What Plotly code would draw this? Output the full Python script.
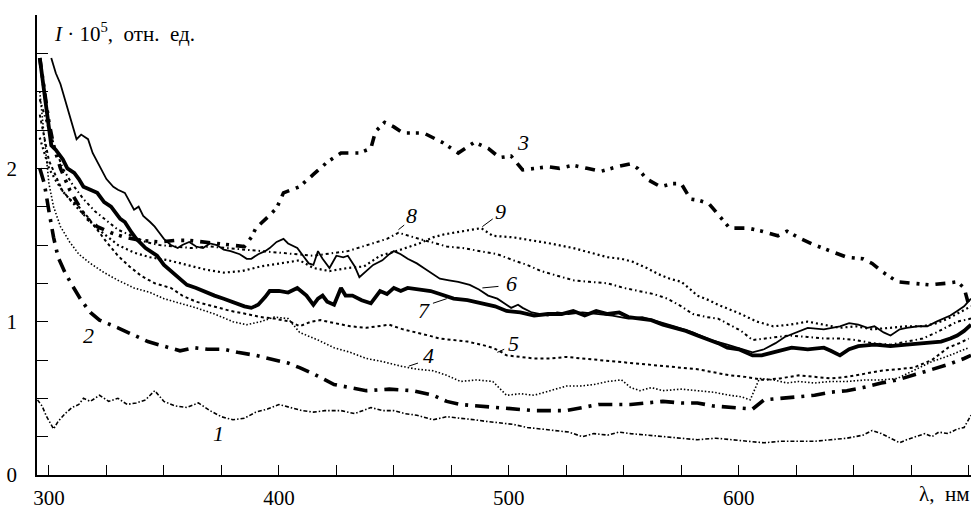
import plotly.graph_objects as go

# ---------------- data ----------------
wl1 = [295, 297, 299, 301, 302, 304, 307, 310, 313, 315, 318, 322, 326, 330, 334, 338, 342, 346, 350, 355,
       360, 365, 370, 375, 380, 385, 390, 395, 400, 405, 410, 415, 420, 427, 433, 440, 445, 450, 455, 460,
       467, 473, 480, 485, 490, 496, 502, 508, 514, 520, 526, 532, 537, 543, 548, 553, 560, 567, 575, 582,
       590, 596, 603, 611, 618, 626, 633, 640, 647, 654, 658, 662, 666, 670, 673, 677, 681, 684, 687, 691,
       695, 698, 700, 701]
i1 = [0.49, 0.45, 0.38, 0.32, 0.30, 0.35, 0.40, 0.44, 0.46, 0.50, 0.48, 0.52, 0.48, 0.50, 0.46, 0.47, 0.49, 0.55, 0.48, 0.45,
      0.44, 0.47, 0.42, 0.38, 0.36, 0.37, 0.41, 0.43, 0.46, 0.44, 0.42, 0.41, 0.42, 0.42, 0.40, 0.44, 0.42, 0.42, 0.40, 0.39,
      0.36, 0.38, 0.37, 0.36, 0.35, 0.34, 0.33, 0.31, 0.30, 0.29, 0.28, 0.25, 0.27, 0.26, 0.28, 0.27, 0.26, 0.25, 0.24, 0.23,
      0.24, 0.23, 0.22, 0.21, 0.22, 0.22, 0.22, 0.23, 0.24, 0.26, 0.29, 0.27, 0.24, 0.21, 0.23, 0.25, 0.27, 0.25, 0.28, 0.27,
      0.30, 0.31, 0.36, 0.39]

wl2 = [296, 298, 300, 302, 304, 307, 310, 314, 318, 322, 330, 337, 343, 350, 357, 363, 369, 376, 382, 390,
       396, 404, 409, 415, 424, 431, 438, 448, 458, 467, 473, 479, 488, 496, 504, 511, 518, 525, 532, 539,
       546, 553, 560, 567, 575, 582, 589, 596, 602, 606, 611, 620, 627, 633, 640, 647, 654, 662, 669, 676,
       684, 691, 698, 701]
i2 = [2.00, 1.90, 1.72, 1.55, 1.42, 1.32, 1.24, 1.14, 1.06, 1.01, 0.96, 0.91, 0.87, 0.84, 0.81, 0.83, 0.82, 0.82, 0.80, 0.78,
      0.76, 0.73, 0.70, 0.66, 0.59, 0.57, 0.55, 0.56, 0.55, 0.52, 0.48, 0.46, 0.45, 0.44, 0.43, 0.42, 0.42, 0.42, 0.44, 0.46,
      0.46, 0.46, 0.47, 0.48, 0.47, 0.47, 0.45, 0.44, 0.43, 0.43, 0.49, 0.50, 0.51, 0.52, 0.54, 0.55, 0.57, 0.60, 0.62, 0.65,
      0.69, 0.72, 0.76, 0.78]

wl3 = [296, 298, 300, 302, 305, 309, 312, 316, 321, 327, 333, 340, 348, 355, 361, 368, 374, 380, 385, 388,
       390, 395, 399, 402, 406, 409, 415, 421, 427, 435, 440, 442, 446, 450, 454, 463, 471, 478, 485, 491,
       496, 501, 506, 511, 517, 522, 528, 534, 540, 547, 553, 556, 560, 566, 571, 575, 579, 583, 587, 591,
       596, 604, 610, 617, 621, 627, 633, 640, 647, 654, 658, 662, 666, 669, 676, 683, 690, 695, 698, 700]
i3 = [2.72, 2.50, 2.30, 2.15, 2.00, 1.86, 1.78, 1.68, 1.62, 1.58, 1.55, 1.53, 1.52, 1.53, 1.53, 1.52, 1.51, 1.50, 1.49, 1.55,
      1.61, 1.68, 1.74, 1.84, 1.86, 1.88, 1.96, 2.04, 2.10, 2.10, 2.13, 2.24, 2.30, 2.27, 2.23, 2.23, 2.17, 2.10, 2.17, 2.13,
      2.07, 2.08, 1.99, 2.00, 2.01, 2.00, 2.02, 2.00, 1.98, 2.01, 2.03, 2.00, 1.93, 1.88, 1.90, 1.90, 1.80, 1.79, 1.77, 1.70,
      1.61, 1.61, 1.59, 1.56, 1.59, 1.54, 1.50, 1.46, 1.42, 1.41, 1.38, 1.33, 1.29, 1.26, 1.25, 1.24, 1.25, 1.26, 1.22, 1.11]

wl4 = [296, 298, 300, 302, 305, 309, 313, 318, 324, 330, 337, 344, 350, 357, 364, 372, 380, 386, 392, 398,
       404, 409, 417, 424, 431, 438, 445, 453, 460, 467, 473, 479, 486, 493, 497, 499, 505, 511, 518, 525,
       531, 537, 543, 549, 553, 557, 562, 567, 575, 582, 589, 596, 601, 605, 609, 615, 621, 626, 633, 640,
       647, 655, 662, 669, 676, 684, 690, 695, 700]
i4 = [2.50, 2.20, 1.90, 1.75, 1.62, 1.52, 1.44, 1.38, 1.32, 1.27, 1.22, 1.19, 1.15, 1.12, 1.09, 1.05, 1.00, 0.98, 1.00, 1.03,
      1.02, 0.93, 0.88, 0.83, 0.80, 0.76, 0.74, 0.71, 0.69, 0.68, 0.65, 0.61, 0.62, 0.61, 0.55, 0.52, 0.53, 0.52, 0.55, 0.58,
      0.58, 0.59, 0.61, 0.62, 0.57, 0.55, 0.57, 0.55, 0.56, 0.55, 0.54, 0.52, 0.51, 0.49, 0.63, 0.62, 0.60, 0.61, 0.60, 0.61,
      0.61, 0.62, 0.62, 0.63, 0.68, 0.74, 0.77, 0.80, 0.83]

wl5 = [296, 298, 300, 303, 306, 309, 313, 317, 321, 325, 330, 335, 340, 346, 353, 358, 364, 372, 379, 386,
       392, 398, 405, 409, 414, 418, 424, 431, 438, 443, 448, 454, 460, 465, 470, 476, 482, 488, 493, 497,
       499, 505, 511, 518, 525, 532, 539, 546, 553, 560, 567, 575, 582, 589, 596, 603, 611, 618, 626, 633,
       640, 647, 655, 662, 669, 676, 684, 691, 696, 700]
i5 = [2.35, 2.20, 2.05, 1.95, 1.85, 1.80, 1.75, 1.68, 1.60, 1.52, 1.43, 1.36, 1.30, 1.25, 1.22, 1.17, 1.13, 1.10, 1.07, 1.05,
      1.03, 1.02, 1.00, 0.97, 1.00, 1.01, 0.99, 0.97, 0.96, 0.97, 0.98, 0.95, 0.93, 0.91, 0.89, 0.88, 0.87, 0.85, 0.83, 0.80,
      0.78, 0.77, 0.76, 0.76, 0.77, 0.76, 0.75, 0.74, 0.73, 0.72, 0.71, 0.70, 0.69, 0.67, 0.65, 0.64, 0.62, 0.63, 0.65, 0.64,
      0.63, 0.64, 0.66, 0.68, 0.69, 0.70, 0.75, 0.83, 0.86, 0.89]

wl6 = [301, 303, 305, 307, 309, 312, 314, 317, 319, 321, 323, 325, 328, 330, 333, 335, 337, 339, 341, 344,
       346, 348, 350, 353, 356, 358, 361, 364, 367, 370, 373, 376, 379, 383, 386, 388, 391, 394, 396, 399,
       402, 404, 408, 411, 413, 415, 417, 419, 422, 425, 428, 430, 433, 435, 438, 441, 445, 448, 450, 453,
       456, 460, 463, 466, 470, 474, 478, 483, 487, 491, 495, 498, 501, 504, 506, 510, 514, 517, 521, 526,
       532, 538, 545, 552, 558, 565, 572, 580, 588, 595, 601, 606, 611, 616, 620, 625, 630, 637, 644, 648,
       652, 656, 659, 663, 666, 670, 673, 678, 682, 686, 689, 692, 695, 698, 701]
i6 = [2.72, 2.62, 2.55, 2.45, 2.34, 2.19, 2.22, 2.19, 2.10, 2.04, 1.98, 1.93, 1.88, 1.86, 1.84, 1.78, 1.73, 1.75, 1.69, 1.65,
      1.62, 1.58, 1.54, 1.50, 1.48, 1.50, 1.52, 1.49, 1.48, 1.51, 1.50, 1.47, 1.46, 1.44, 1.41, 1.41, 1.44, 1.46, 1.48, 1.52,
      1.54, 1.51, 1.48, 1.42, 1.38, 1.37, 1.46, 1.41, 1.35, 1.43, 1.42, 1.43, 1.36, 1.29, 1.33, 1.37, 1.40, 1.44, 1.46, 1.44,
      1.41, 1.38, 1.35, 1.32, 1.28, 1.27, 1.26, 1.24, 1.21, 1.17, 1.15, 1.12, 1.09, 1.11, 1.09, 1.06, 1.05, 1.04, 1.06, 1.05,
      1.06, 1.05, 1.04, 1.02, 1.03, 1.00, 0.97, 0.93, 0.88, 0.85, 0.82, 0.80, 0.82, 0.86, 0.90, 0.93, 0.96, 0.95, 0.97, 0.99,
      0.98, 0.96, 0.97, 0.93, 0.91, 0.95, 0.96, 0.97, 0.97, 1.00, 1.02, 1.04, 1.07, 1.10, 1.15]

wl7 = [296, 298, 299, 301, 303, 306, 308, 311, 313, 315, 318, 321, 324, 327, 331, 333, 336, 338, 342, 347,
       350, 353, 357, 360, 364, 367, 372, 376, 381, 385, 388, 391, 394, 396, 400, 404, 408, 412, 415, 417,
       419, 421, 424, 427, 429, 432, 436, 440, 444, 447, 450, 453, 456, 460, 466, 470, 476, 482, 488, 494,
       499, 505, 511, 517, 523, 528, 533, 538, 543, 548, 552, 557, 562, 567, 572, 577, 582, 586, 591, 595,
       600, 606, 610, 615, 620, 623, 630, 637, 640, 644, 648, 652, 659, 666, 673, 680, 688, 692, 695, 698,
       701]
i7 = [2.72, 2.50, 2.40, 2.15, 2.12, 2.06, 2.00, 1.97, 1.93, 1.88, 1.86, 1.84, 1.78, 1.75, 1.67, 1.65, 1.58, 1.54, 1.48, 1.43,
      1.37, 1.33, 1.28, 1.24, 1.22, 1.20, 1.17, 1.15, 1.12, 1.10, 1.09, 1.11, 1.16, 1.20, 1.20, 1.19, 1.22, 1.17, 1.11, 1.15,
      1.17, 1.13, 1.11, 1.22, 1.17, 1.17, 1.14, 1.12, 1.20, 1.18, 1.22, 1.20, 1.22, 1.21, 1.20, 1.18, 1.15, 1.14, 1.12, 1.10,
      1.07, 1.06, 1.04, 1.05, 1.05, 1.07, 1.04, 1.07, 1.05, 1.06, 1.03, 1.02, 1.01, 0.98, 0.96, 0.94, 0.91, 0.89, 0.86, 0.83,
      0.82, 0.78, 0.78, 0.80, 0.82, 0.83, 0.82, 0.83, 0.81, 0.78, 0.82, 0.84, 0.85, 0.84, 0.85, 0.86, 0.87, 0.89, 0.91, 0.94,
      0.98]

wl8 = [296, 298, 300, 303, 306, 310, 315, 320, 325, 330, 336, 342, 348, 355, 362, 370, 378, 385, 392, 400,
       408, 415, 430, 438, 447, 452, 456, 461, 466, 473, 480, 488, 495, 502, 508, 514, 521, 528, 535, 543,
       550, 557, 563, 569, 575, 580, 586, 591, 596, 601, 606, 612, 618, 622, 630, 637, 644, 651, 658, 666,
       673, 680, 686, 691, 695, 701]
i8 = [2.45, 2.35, 2.25, 2.12, 2.00, 1.90, 1.80, 1.72, 1.66, 1.60, 1.56, 1.52, 1.50, 1.49, 1.48, 1.49, 1.48, 1.47, 1.46, 1.45,
      1.44, 1.43, 1.46, 1.50, 1.54, 1.58, 1.56, 1.54, 1.52, 1.49, 1.48, 1.46, 1.44, 1.40, 1.37, 1.33, 1.30, 1.27, 1.26, 1.25,
      1.22, 1.20, 1.18, 1.15, 1.10, 1.05, 1.03, 1.02, 0.98, 0.94, 0.88, 0.89, 0.90, 0.91, 0.90, 0.89, 0.89, 0.88, 0.86, 0.85,
      0.87, 0.89, 0.93, 0.97, 1.00, 1.02]

wl9 = [296, 298, 300, 303, 306, 310, 315, 320, 325, 330, 337, 344, 352, 360, 368, 376, 384, 392, 400, 409,
       415, 422, 430, 437, 444, 451, 461, 467, 472, 479, 484, 488, 493, 502, 511, 518, 528, 536, 543, 549,
       554, 560, 565, 570, 575, 579, 582, 587, 591, 596, 601, 605, 608, 615, 622, 630, 637, 644, 651, 658,
       666, 673, 680, 686, 691, 695, 701]
i9 = [2.20, 2.10, 2.00, 1.92, 1.85, 1.78, 1.70, 1.62, 1.56, 1.50, 1.45, 1.42, 1.40, 1.37, 1.34, 1.32, 1.33, 1.36, 1.38, 1.40,
      1.35, 1.33, 1.35, 1.36, 1.43, 1.46, 1.51, 1.55, 1.57, 1.59, 1.60, 1.61, 1.56, 1.55, 1.53, 1.51, 1.48, 1.45, 1.42, 1.41,
      1.39, 1.35, 1.31, 1.28, 1.26, 1.21, 1.17, 1.14, 1.11, 1.08, 1.05, 1.02, 1.00, 0.97, 0.98, 1.00, 0.98, 0.96, 0.97, 0.95,
      0.96, 0.97, 0.97, 0.99, 1.02, 1.05, 1.10]

curve_names = ["1", "2", "3", "4", "5", "6", "7", "8", "9"]
x_ticks = [300, 400, 500, 600]
y_ticks = [0, 1, 2]

# ---------------- styling ----------------
styles = {
    "1": dict(width=1.6, dash="4px,2px,1.5px,2px"),
    "2": dict(width=3.6, dash="14px,7px,3px,7px"),
    "3": dict(width=3.6, dash="10px,7px,3px,6px,3px,7px"),
    "4": dict(width=1.6, dash="1.5px,2px"),
    "5": dict(width=2.0, dash="3px,3px"),
    "6": dict(width=1.8, dash="solid"),
    "7": dict(width=3.8, dash="solid"),
    "8": dict(width=2.0, dash="3px,3px,1.5px,3px"),
    "9": dict(width=2.2, dash="2px,3px"),
}
series = {
    "1": (wl1, i1), "2": (wl2, i2), "3": (wl3, i3), "4": (wl4, i4), "5": (wl5, i5),
    "6": (wl6, i6), "7": (wl7, i7), "8": (wl8, i8), "9": (wl9, i9),
}

fig = go.Figure()
for name in curve_names:
    xs, ys = series[name]
    fig.add_trace(go.Scatter(x=xs, y=ys, mode="lines", name=name,
                             line=dict(color="black", **styles[name]),
                             showlegend=False, hoverinfo="skip"))

serif = "Liberation Serif"

# curve labels (italic numbers) and their short leader strokes
labels = [
    ("1", 373.6, 0.27, None),
    ("2", 317.0, 0.91, None),
    ("3", 506.0, 2.17, None),
    ("4", 465.0, 0.78, (460.5, 0.73, 456.5, 0.71)),
    ("5", 502.0, 0.86, (498.0, 0.82, 495.0, 0.80)),
    ("6", 501.0, 1.25, (495.5, 1.23, 488.5, 1.22)),
    ("7", 463.0, 1.07, (467.0, 1.12, 473.0, 1.15)),
    ("8", 457.5, 1.69, (454.5, 1.63, 452.0, 1.60)),
    ("9", 496.5, 1.72, (493.0, 1.67, 488.5, 1.62)),
]
for txt, lx, ly, lead in labels:
    fig.add_annotation(x=lx, y=ly, text=f"<i>{txt}</i>", showarrow=False,
                       font=dict(family=serif, size=22, color="black"),
                       xanchor="center", yanchor="middle")
    if lead:
        fig.add_shape(type="line", x0=lead[0], y0=lead[1], x1=lead[2], y1=lead[3],
                      line=dict(color="black", width=1))

fig.add_annotation(xref="paper", yref="paper", x=0.016, y=0.962,
                   text="<i>I</i> · 10<sup>5</sup>,&nbsp; отн.&nbsp; ед.", showarrow=False,
                   xanchor="left", yanchor="middle",
                   font=dict(family=serif, size=21, color="black"))
fig.add_annotation(xref="paper", yref="paper", x=1.0, y=-0.042,
                   text="λ,&nbsp; нм", showarrow=False, xanchor="right", yanchor="middle",
                   font=dict(family=serif, size=21, color="black"))

fig.update_xaxes(range=[294.8, 701], tickvals=x_ticks, ticktext=[str(v) for v in x_ticks],
                 ticks="inside", ticklen=10, tickwidth=1.3, tickcolor="black",
                 minor=dict(ticks="inside", ticklen=10, tickwidth=1.3, tickcolor="black", dtick=25, tick0=300),
                 showline=True, linecolor="black", linewidth=1.5, showgrid=False, zeroline=False,
                 tickfont=dict(family=serif, size=21, color="black"), ticklabelstandoff=3)
fig.update_yaxes(range=[0, 3.0], tickvals=y_ticks, ticktext=[str(v) for v in y_ticks],
                 ticks="inside", ticklen=11, tickwidth=1.3, tickcolor="black",
                 minor=dict(ticks="inside", ticklen=11, tickwidth=1.3, tickcolor="black", dtick=0.25, tick0=0),
                 showline=True, linecolor="black", linewidth=1.5, showgrid=False, zeroline=False,
                 tickfont=dict(family=serif, size=21, color="black"), ticklabelstandoff=14)

fig.update_layout(width=971, height=510, margin=dict(l=37, r=0, t=15, b=32),
                  font=dict(family=serif, color="black"),
                  plot_bgcolor="white", paper_bgcolor="white")

fig.write_html("out.html", config={"displayModeBar": False},
               post_script="document.body.style.margin='0';document.body.style.overflow='hidden';")
